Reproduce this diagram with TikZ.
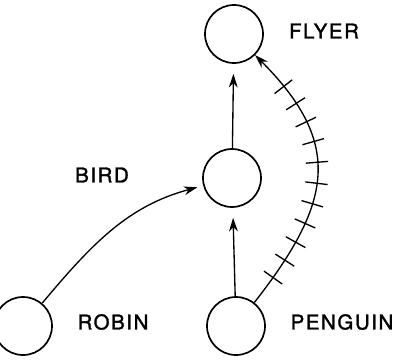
\documentclass[tikz,border=0pt]{standalone}
\usepackage{fontspec}
\usetikzlibrary{arrows.meta,decorations.markings}
\newfontfamily\tagfont[LetterSpace=8, FakeBold=1.6]{TeX Gyre Heros}

\begin{document}
\begin{tikzpicture}[
  concept/.style={draw, circle, line width=1.2pt, minimum size=1.45cm, inner sep=0pt},
  tag/.style={font=\tagfont\fontsize{14.5}{16}\selectfont},
  isa/.style={-{Stealth[length=3.4mm,width=2.2mm]}, line width=0.95pt},
  isnot/.style={isa, postaction={decorate},
    decoration={markings, mark=between positions 0.11 and 0.86 step 0.074 with
      {\draw[-, line width=0.95pt] (0,-0.28) -- (0,0.28);}}}
]
  \useasboundingbox (0,0) rectangle (10.025,9.025);

  % concepts
  \node[concept] (flyer) at (5.85,8.175) {};
  \node[concept] (bird) at (5.8,4.575) {};
  \node[concept] (robin) at (0.575,0.875) {};
  \node[concept] (penguin) at (5.9,0.875) {};

  % names
  \node[tag] (flyername) at (8.1,8.25) {FLYER};
  \node[tag] (birdname) at (2.55,4.65) {BIRD};
  \node[tag] (robinname) at (2.825,0.975) {ROBIN};
  \node[tag] (penguinname) at (8.55,0.975) {PENGUIN};

  % links
  \draw[isa, shorten >=0.25cm] (bird) -- (flyer);
  \draw[isa, shorten >=0.25cm] (penguin) -- (bird);
  \draw[isa, shorten >=0.15cm] (robin) to[out=50, in=195] (bird);
  \draw[isnot] (penguin) to[out=52, in=-45, looseness=1.3] (flyer);
\end{tikzpicture}
\end{document}
